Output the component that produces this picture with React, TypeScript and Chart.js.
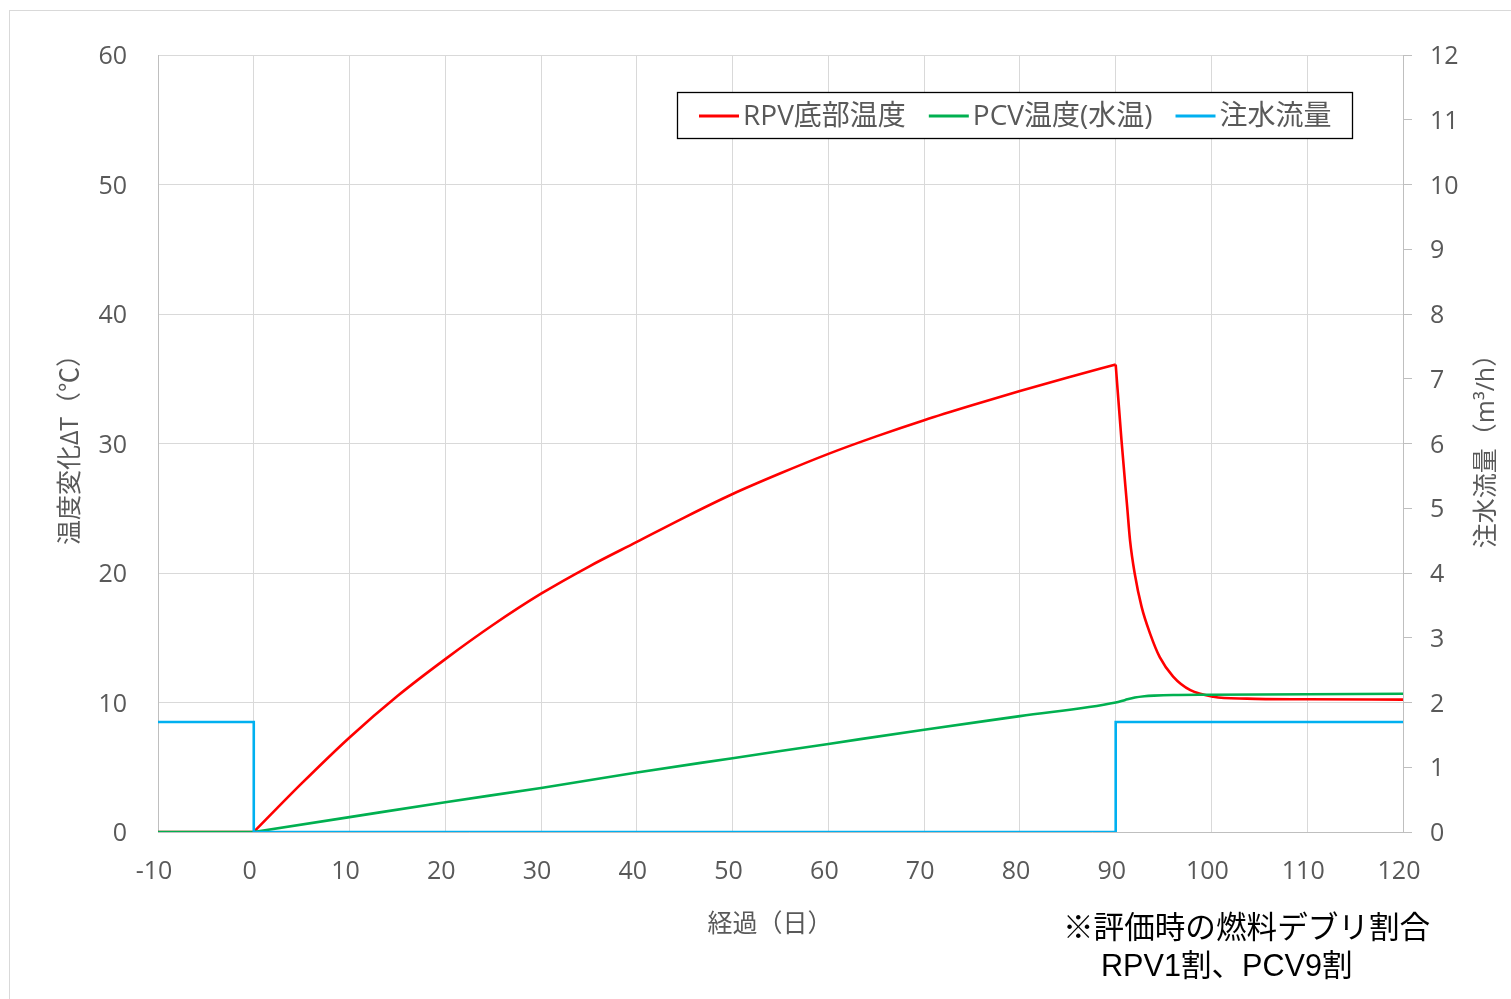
import React, { useEffect, useRef } from "react";
import { Chart, registerables } from "chart.js";

Chart.register(...registerables);

// ---- data ----
// null entries split a curve into pieces so each corner stays sharp
const rpvDays = [-10, 0, 0, 0, 5, 10, 15, 20, 25, 30, 35, 40, 45, 50, 55, 60, 65, 70, 75, 80, 85, 90, 90, 90,
  90.6, 91.2, 91.5, 92, 92.7, 93.6, 94.6, 96, 97.8, 100.2, 103.7, 110, 120];
const rpvTemp = [0, 0, null, 0, 3.75, 7.3, 10.5, 13.35, 16.0, 18.4, 20.5, 22.4, 24.3, 26.1, 27.7, 29.2, 30.55, 31.8, 32.95, 34.05, 35.1, 36.1, null, 36.1,
  30.3, 25.1, 22.5, 19.9, 17.4, 15.3, 13.5, 12.0, 10.95, 10.45, 10.3, 10.25, 10.22];

const pcvDays = [-10, 0, 0, 0, 10, 20, 30, 40, 50, 60, 70, 80, 90, 91, 92, 93, 94, 96, 100, 110, 120];
const pcvTemp = [0, 0, null, 0, 1.15, 2.3, 3.4, 4.6, 5.7, 6.8, 7.9, 8.95, 10.0, 10.2, 10.38, 10.48, 10.53, 10.58, 10.6, 10.64, 10.68];

const flowDays = [-10, 0, 0, 90, 90, 120];
const flowRate = [1.7, 1.7, 0, 0, 1.7, 1.7];

const seriesLabels = ["RPV底部温度", "PCV温度(水温)", "注水流量"];
const seriesColors = ["#FF0000", "#00B050", "#00B0F0"];
const xTitle = "経過（日）";
const yTitle = "温度変化ΔT（℃）";
const y1Title = "注水流量（m³/h）";
const noteLines = ["※評価時の燃料デブリ割合", "RPV1割、PCV9割"];

const FONT = "'Open Sans', 'Noto Sans CJK JP', sans-serif";
const GRAY = "#595959";

const toPoints = (xs: number[], ys: (number | null)[]) => xs.map((x, i) => ({ x, y: ys[i] }));

const decorPlugin = {
  id: "decor",
  afterDraw(chart: any) {
    const ctx = chart.ctx as CanvasRenderingContext2D;
    ctx.save();
    // outer frame
    ctx.strokeStyle = "#d9d9d9";
    ctx.lineWidth = 1;
    ctx.strokeRect(9.5, 10.5, 1700, 1200);

    // legend box
    ctx.fillStyle = "#ffffff";
    ctx.fillRect(677, 92, 676, 47);
    ctx.strokeStyle = "#000000";
    ctx.lineWidth = 1.3;
    ctx.strokeRect(677.5, 92.5, 675, 46);
    ctx.font = `28px ${FONT}`;
    ctx.textBaseline = "middle";
    ctx.textAlign = "left";
    let x = 699;
    const ly = 116;
    seriesLabels.forEach((lab, i) => {
      ctx.strokeStyle = seriesColors[i];
      ctx.lineWidth = 3;
      ctx.beginPath();
      ctx.moveTo(x, ly);
      ctx.lineTo(x + 40, ly);
      ctx.stroke();
      ctx.fillStyle = GRAY;
      ctx.fillText(lab, x + 44, ly + 1);
      x += 44 + ctx.measureText(lab).width + 23;
    });

    // x axis title
    ctx.font = `25px ${FONT}`;
    ctx.fillStyle = GRAY;
    ctx.textAlign = "center";
    ctx.fillText(xTitle, 770, 925);

    // right axis title (reads bottom to top)
    ctx.save();
    ctx.translate(1487, 445);
    ctx.rotate(-Math.PI / 2);
    ctx.fillText(y1Title, 0, 0);
    ctx.restore();

    // note
    ctx.font = `30.6px 'Liberation Sans', 'Noto Sans CJK JP', sans-serif`;
    ctx.fillStyle = "#000000";
    ctx.textAlign = "left";
    ctx.fillText(noteLines[0], 1063, 930);
    ctx.fillText(noteLines[1], 1101, 968);
    ctx.restore();
  },
};

export default function App() {
  const ref = useRef<HTMLCanvasElement>(null);

  useEffect(() => {
    if (!ref.current) return;
    const tickFont = { family: FONT, size: 25 };
    const common = { borderWidth: 2.6, pointRadius: 0, spanGaps: false };
    const chart = new Chart(ref.current, {
      type: "line",
      data: {
        datasets: [
          {
            ...common,
            label: seriesLabels[0],
            data: toPoints(rpvDays, rpvTemp),
            borderColor: seriesColors[0],
            backgroundColor: seriesColors[0],
            cubicInterpolationMode: "monotone",
            yAxisID: "y",
            order: 2,
          },
          {
            ...common,
            label: seriesLabels[1],
            data: toPoints(pcvDays, pcvTemp),
            borderColor: seriesColors[1],
            backgroundColor: seriesColors[1],
            cubicInterpolationMode: "monotone",
            yAxisID: "y",
            order: 1,
          },
          {
            ...common,
            label: seriesLabels[2],
            data: toPoints(flowDays, flowRate),
            borderColor: seriesColors[2],
            backgroundColor: seriesColors[2],
            tension: 0,
            yAxisID: "y1",
            order: 0,
          },
        ],
      },
      options: {
        animation: false,
        responsive: false,
        events: [],
        layout: { padding: { top: 55, left: 0, right: 0, bottom: 0 } },
        plugins: { legend: { display: false }, tooltip: { enabled: false } },
        scales: {
          x: {
            type: "linear",
            min: -10,
            max: 120,
            ticks: { stepSize: 10, color: GRAY, font: tickFont, padding: 25, maxRotation: 0, labelOffset: -4 },
            grid: { color: "#d9d9d9", drawTicks: false },
            border: { color: "#bfbfbf" },
            afterFit: (s: any) => { s.height = 167; },
          },
          y: {
            position: "left",
            min: 0,
            max: 60,
            ticks: { stepSize: 10, color: GRAY, font: tickFont, padding: 31, labelOffset: 2 },
            grid: { color: "#d9d9d9", drawTicks: false },
            border: { color: "#bfbfbf" },
            title: { display: true, text: yTitle, color: GRAY, font: tickFont, padding: { top: 56, bottom: 0 } },
            afterFit: (s: any) => { s.width = 158; },
          },
          y1: {
            position: "right",
            min: 0,
            max: 12,
            ticks: { stepSize: 1, color: GRAY, font: tickFont, padding: 18, labelOffset: 2 },
            grid: { drawOnChartArea: false, drawTicks: true, tickLength: 9, tickColor: "#bfbfbf" },
            border: { color: "#bfbfbf" },
            title: { display: false, text: y1Title },
            afterFit: (s: any) => { s.width = 108; },
          },
        },
      },
      plugins: [decorPlugin],
    } as any);
    return () => chart.destroy();
  }, []);

  return (
    <div style={{ position: "absolute", left: 0, top: 0, width: 1511, height: 999, background: "#fff" }}>
      <canvas ref={ref} width={1511} height={999} style={{ display: "block" }} />
    </div>
  );
}
